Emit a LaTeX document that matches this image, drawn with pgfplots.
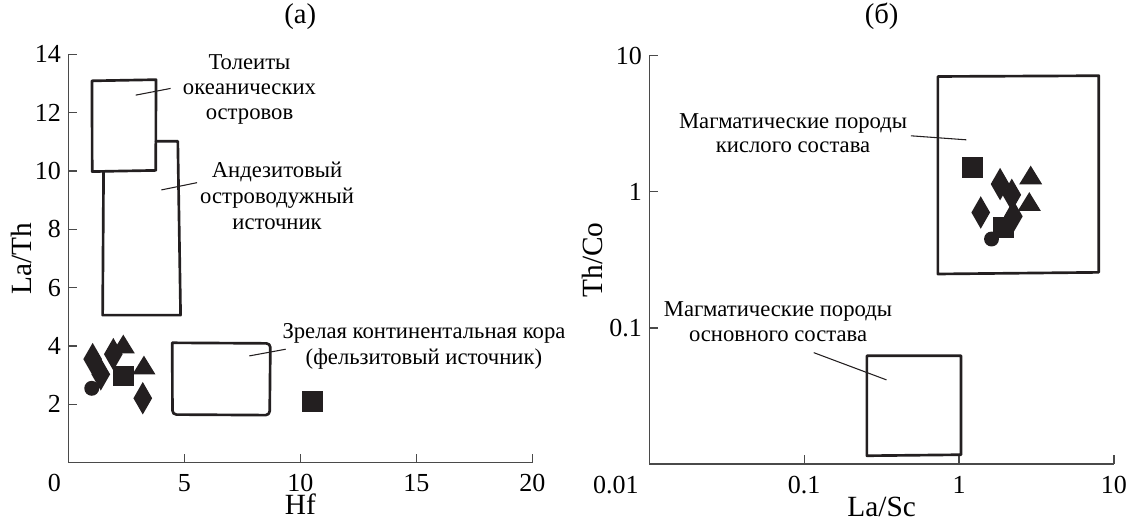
\documentclass[border=0pt]{standalone}
\usepackage{pgfplots}
\pgfplotsset{compat=1.18}
\usepackage{fontspec}
\setmainfont{Liberation Serif}

\definecolor{ink}{HTML}{231F20}
\definecolor{axisgray}{HTML}{4A4A4A}

% filled sample symbols, sizes measured from the centre of each shape
\pgfdeclareplotmark{sq}{%
  \pgfpathrectangle{\pgfpoint{-7.7pt}{-7.7pt}}{\pgfpoint{15.4pt}{15.4pt}}%
  \pgfusepathqfill}
\pgfdeclareplotmark{dm}{%
  \pgfpathmoveto{\pgfpoint{0pt}{12.2pt}}%
  \pgfpathlineto{\pgfpoint{7pt}{0pt}}%
  \pgfpathlineto{\pgfpoint{0pt}{-12.2pt}}%
  \pgfpathlineto{\pgfpoint{-7pt}{0pt}}%
  \pgfpathclose\pgfusepathqfill}
\pgfdeclareplotmark{tr}{%
  \pgfpathmoveto{\pgfpoint{0pt}{7pt}}%
  \pgfpathlineto{\pgfpoint{8.6pt}{-7pt}}%
  \pgfpathlineto{\pgfpoint{-8.6pt}{-7pt}}%
  \pgfpathclose\pgfusepathqfill}
\pgfdeclareplotmark{cr}{%
  \pgfpathcircle{\pgfpointorigin}{5.6pt}\pgfusepathqfill}

\newcommand\ann{\fontsize{17}{20}\selectfont}

\tikzset{leader/.style={draw=ink, line width=0.8pt}}

\pgfplotsset{
  panel/.style={
    scale only axis, anchor=south west,
    axis x line=bottom, axis y line=left,
    axis line style={-, draw=axisgray, line width=1pt},
    tick align=inside, major tick length=6.8pt,
    tick style={draw=axisgray, line width=1pt},
    ticklabel style={font=\fontsize{19.5}{20}\selectfont},
    xticklabel style={anchor=north, inner sep=0pt, yshift=-8.7pt},
    yticklabel style={anchor=east, inner sep=0pt, xshift=-5.3pt},
    label style={font=\fontsize{22}{24}\selectfont, inner sep=0pt},
    title style={font=\fontsize{21.5}{23}\selectfont, inner sep=0pt, at={(axis description cs:0.5,1)}, anchor=base},
    /pgf/number format/assume math mode=true,
    clip=false,
  },
  zone/.style={draw=ink, line width=2pt, mark=none, line join=round, line cap=round},
  pts/.style={only marks, mark=#1, mark options={fill=ink, draw=none}},
}

\begin{document}
\begin{tikzpicture}
\useasboundingbox (0,0) rectangle (846pt,-392.25pt);

% (a) La/Th versus Hf
\begin{axis}[panel,
  at={(51.225pt,-347.025pt)}, width=348pt, height=306.3pt,
  xmin=0, xmax=20, ymin=0, ymax=14,
  xtick={0,5,10,15,20}, xticklabels={\llap{0\hspace{5.5pt}},5,10,15,20},
  ytick={2,4,6,8,10,12,14},
  xlabel={Hf}, ylabel={La/Th},
  xlabel style={at={(axis description cs:0.5,0)}, anchor=base, yshift=-39.2pt},
  ylabel style={at={(axis description cs:-0.0793,0.5)}, anchor=base},
  title={(а)}, title style={yshift=17.1pt},
]
  % source fields
  \addplot[zone] coordinates {(1.02,13.09) (3.78,13.13) (3.77,10.02) (1.03,9.98) (1.02,13.09)};
  \addplot[zone] coordinates {(3.78,11.02) (4.72,11.02) (4.84,5.06) (1.48,5.06) (1.52,9.98)};
  \addplot[zone, rounded corners=3pt] coordinates {(4.48,4.11) (8.71,4.09) (8.68,1.63) (4.49,1.65) (4.48,4.11)};

  \draw[leader] (axis cs:2.905,12.6) -- (axis cs:4.41,12.83);
  \draw[leader] (axis cs:4.01,9.35) -- (axis cs:5.55,9.6);
  \draw[leader] (axis cs:7.80,3.66) -- (axis cs:9.37,3.89);

  \node[anchor=base, font=\ann] at (axis cs:7.81,13.49) {Толеиты};
  \node[anchor=base, font=\ann] at (axis cs:7.81,12.62) {океанических};
  \node[anchor=base, font=\ann] at (axis cs:7.81,11.76) {островов};
  \node[anchor=base, font=\ann] at (axis cs:9.0,9.76) {Андезитовый};
  \node[anchor=base, font=\ann] at (axis cs:9.0,8.87) {островодужный};
  \node[anchor=base, font=\ann] at (axis cs:9.0,8.01) {источник};
  \node[anchor=base, font=\ann] at (axis cs:15.33,4.27) {Зрелая континентальная кора};
  \node[anchor=base, font=\ann] at (axis cs:15.33,3.38) {(фельзитовый источник)};

  % samples
  \addplot[pts=cr] coordinates {(1.01,2.55)};
  \addplot[pts=dm] coordinates {(1.05,3.55) (1.40,3.03) (1.94,3.72) (3.21,2.21)};
  \addplot[pts=tr] coordinates {(2.37,4.07) (3.26,3.35)};
  \addplot[pts=sq] coordinates {(2.37,2.98) (10.52,2.09)};
\end{axis}

% (b) Th/Co versus La/Sc
\begin{axis}[panel,
  at={(486.975pt,-348pt)}, width=348.5pt, height=306.2pt,
  xmode=log, ymode=log,
  xmin=0.01, xmax=10, ymin=0.01, ymax=10,
  xtick={0.01,0.1,1,10}, xticklabels={\llap{0.01\hspace{8.1pt}},0.1,1,10},
  ytick={0.1,1,10}, yticklabels={0.1,1,10},
  xminorticks=false, yminorticks=false,
  xlabel={La/Sc}, ylabel={Th/Co},
  xlabel style={at={(axis description cs:0.5,0)}, anchor=base, yshift=-39pt},
  ylabel style={at={(axis description cs:-0.1007,0.5)}, anchor=base},
  title={(б)}, title style={yshift=18.2pt},
]
  \addplot[zone] coordinates {(0.73,7.04) (7.98,7.13) (7.98,0.256) (0.73,0.249) (0.73,7.04)};
  \addplot[zone] coordinates {(0.254,0.0625) (1.03,0.0625) (1.03,0.0117) (0.254,0.0115) (0.254,0.0625)};

  \draw[leader] (axis cs:0.489,2.58) -- (axis cs:1.116,2.41);
  \draw[leader] (axis cs:0.1153,0.0658) -- (axis cs:0.340,0.0415);

  \node[anchor=base, font=\ann] at (axis cs:0.0848,2.94) {Магматические породы};
  \node[anchor=base, font=\ann] at (axis cs:0.0848,1.945) {кислого состава};
  \node[anchor=base, font=\ann] at (axis cs:0.0678,0.121) {Магматические породы};
  \node[anchor=base, font=\ann] at (axis cs:0.0678,0.0792) {основного состава};

  \addplot[pts=cr] coordinates {(1.62,0.45)};
  \addplot[pts=dm] coordinates {(1.84,1.14) (2.19,0.95) (1.38,0.705) (2.24,0.66)};
  \addplot[pts=tr] coordinates {(2.90,1.33) (2.84,0.85)};
  \addplot[pts=sq] coordinates {(1.22,1.51) (1.94,0.547)};
\end{axis}
\end{tikzpicture}
\end{document}
